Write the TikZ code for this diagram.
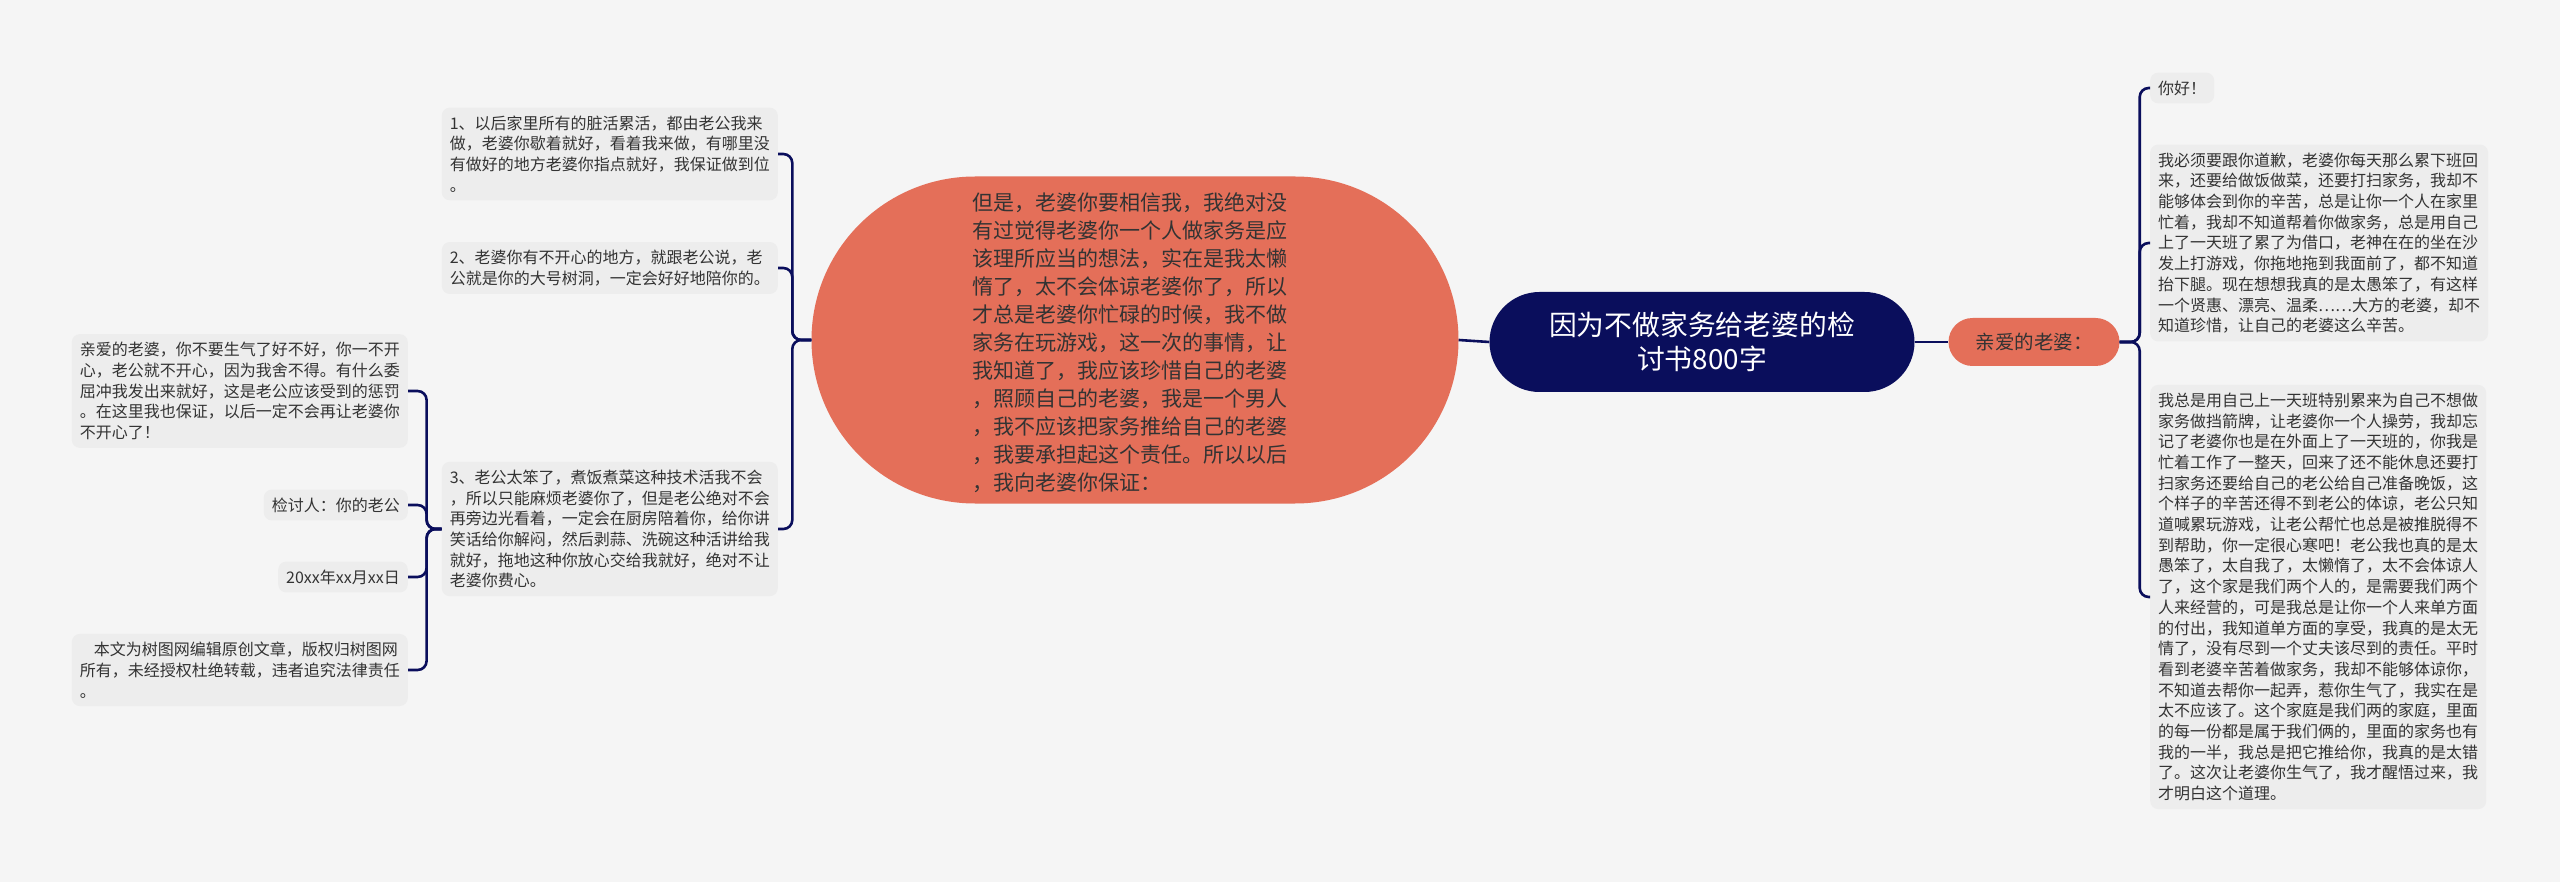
\documentclass[tikz,border=0pt]{standalone}
\usepackage{fontspec}
\setmainfont{Noto Sans CJK SC}
\usetikzlibrary{calc}
\definecolor{bgcol}{HTML}{F5F5F5}
\definecolor{leafcol}{HTML}{EDEDED}
\definecolor{navy}{HTML}{0A0E5C}
\definecolor{salmon}{HTML}{E46F59}
\definecolor{txtcol}{HTML}{333333}

\begin{document}
\begin{tikzpicture}[x=1pt,y=-1pt,
leaf/.style={fill=leafcol,rounded corners=8pt,inner sep=8pt,align=left,text=txtcol,font=\fontsize{16}{20.7}\selectfont},
link/.style={navy,line width=2.6pt,rounded corners=9pt}]
\fill[bgcol] (0,0) rectangle (2560,882);
\useasboundingbox (0,0) rectangle (2560,882);

\node[fill=navy,rounded corners=50pt,minimum width=425pt,minimum height=100pt,text=white,align=center,font=\fontsize{27.8}{34}\selectfont] (root) at (1702,342) {因为不做家务给老婆的检\\讨书800字};
\node[fill=salmon,rounded corners=24pt,minimum width=171pt,minimum height=48pt,text=txtcol,font=\fontsize{19.5}{22}\selectfont] (wife) at (2034,342) {亲爱的老婆：};

\coordinate (bigc) at (1135,340);
\fill[salmon] ($(bigc)+(-160,-163.5)$) -- ($(bigc)+(160,-163.5)$) arc[start angle=-90,end angle=90,radius=163.5]
  -- ($(bigc)+(-160,163.5)$) arc[start angle=90,end angle=270,radius=163.5] -- cycle;
\node[minimum width=647pt,minimum height=327pt] (big) at (bigc) {};
\node[align=left,text=txtcol,inner sep=0pt,font=\fontsize{21}{28}\selectfont] (bigtext) at (1130,343) {但是，老婆你要相信我，我绝对没\\有过觉得老婆你一个人做家务是应\\该理所应当的想法，实在是我太懒\\惰了，太不会体谅老婆你了，所以\\才总是老婆你忙碌的时候，我不做\\家务在玩游戏，这一次的事情，让\\我知道了，我应该珍惜自己的老婆\\，照顾自己的老婆，我是一个男人\\，我不应该把家务推给自己的老婆\\，我要承担起这个责任。所以以后\\，我向老婆你保证：};

\node[leaf,anchor=west] (hello) at (2150,88) {你好！};
\node[leaf,anchor=west] (sorry) at (2150,243) {我必须要跟你道歉，老婆你每天那么累下班回\\来，还要给做饭做菜，还要打扫家务，我却不\\能够体会到你的辛苦，总是让你一个人在家里\\忙着，我却不知道帮着你做家务，总是用自己\\上了一天班了累了为借口，老神在在的坐在沙\\发上打游戏，你拖地拖到我面前了，都不知道\\抬下腿。现在想想我真的是太愚笨了，有这样\\一个贤惠、漂亮、温柔……大方的老婆，却不\\知道珍惜，让自己的老婆这么辛苦。};
\node[leaf,anchor=west] (always) at (2150,597) {我总是用自己上一天班特别累来为自己不想做\\家务做挡箭牌，让老婆你一个人操劳，我却忘\\记了老婆你也是在外面上了一天班的，你我是\\忙着工作了一整天，回来了还不能休息还要打\\扫家务还要给自己的老公给自己准备晚饭，这\\个样子的辛苦还得不到老公的体谅，老公只知\\道喊累玩游戏，让老公帮忙也总是被推脱得不\\到帮助，你一定很心寒吧！老公我也真的是太\\愚笨了，太自我了，太懒惰了，太不会体谅人\\了，这个家是我们两个人的，是需要我们两个\\人来经营的，可是我总是让你一个人来单方面\\的付出，我知道单方面的享受，我真的是太无\\情了，没有尽到一个丈夫该尽到的责任。平时\\看到老婆辛苦着做家务，我却不能够体谅你，\\不知道去帮你一起弄，惹你生气了，我实在是\\太不应该了。这个家庭是我们两的家庭，里面\\的每一份都是属于我们俩的，里面的家务也有\\我的一半，我总是把它推给你，我真的是太错\\了。这次让老婆你生气了，我才醒悟过来，我\\才明白这个道理。};

\node[leaf,anchor=east] (promise1) at (778,154) {1、以后家里所有的脏活累活，都由老公我来\\做，老婆你歇着就好，看着我来做，有哪里没\\有做好的地方老婆你指点就好，我保证做到位\\。};
\node[leaf,anchor=east] (promise2) at (778,268) {2、老婆你有不开心的地方，就跟老公说，老\\公就是你的大号树洞，一定会好好地陪你的。};
\node[leaf,anchor=east] (promise3) at (778,529) {3、老公太笨了，煮饭煮菜这种技术活我不会\\，所以只能麻烦老婆你了，但是老公绝对不会\\再旁边光看着，一定会在厨房陪着你，给你讲\\笑话给你解闷，然后剥蒜、洗碗这种活讲给我\\就好，拖地这种你放心交给我就好，绝对不让\\老婆你费心。};

\node[leaf,anchor=east] (dear) at (408,391) {亲爱的老婆，你不要生气了好不好，你一不开\\心，老公就不开心，因为我舍不得。有什么委\\屈冲我发出来就好，这是老公应该受到的惩罚\\。在这里我也保证，以后一定不会再让老婆你\\不开心了！};
\node[leaf,anchor=east] (signer) at (408,505) {检讨人：你的老公};
\node[leaf,anchor=east] (date) at (408,577) {20xx年xx月xx日};
\node[leaf,anchor=east] (note) at (408,670) {\hspace{14pt}本文为树图网编辑原创文章，版权归树图网\\所有，未经授权杜绝转载，违者追究法律责任\\。};

\draw[link] (root.west) -- (big.east);
\draw[link] (root.east) -- (wife.west);
\foreach \n in {hello,sorry,always} \draw[link] (wife.east) -- ++(20,0) |- (\n.west);
\foreach \n in {promise1,promise2,promise3} \draw[link] (big.west) -- ++(-19,0) |- (\n.east);
\foreach \n in {dear,signer,date,note} \draw[link] (promise3.west) -- ++(-15,0) |- (\n.east);
\end{tikzpicture}
\end{document}
